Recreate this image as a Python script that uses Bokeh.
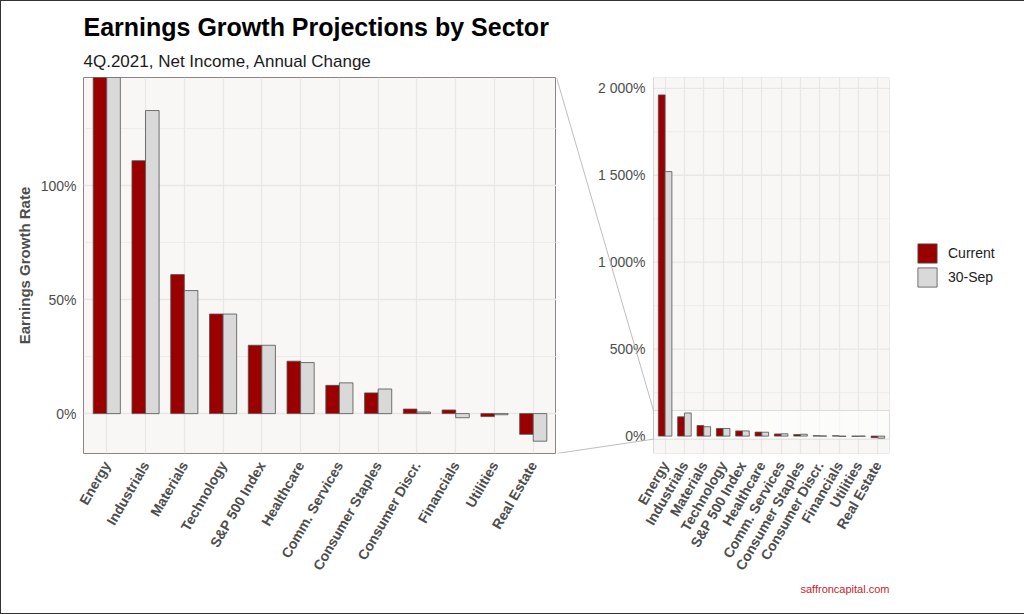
import math
from bokeh.plotting import figure
from bokeh.models import (FactorRange, Range1d, FixedTicker, PrintfTickFormatter,
                          BoxAnnotation, Legend, LegendItem, Title, ColumnDataSource)
from bokeh.transform import dodge
from bokeh.layouts import row
from bokeh.embed import file_html
from bokeh.resources import INLINE
from bokeh.core.properties import value

# ---------------- data ----------------
categories = ["Energy", "Industrials", "Materials", "Technology", "S&P 500 Index",
              "Healthcare", "Comm. Services", "Consumer Staples", "Consumer Discr.",
              "Financials", "Utilities", "Real Estate"]
current = [1962, 111, 61, 43.7, 30, 23, 12.4, 9.1, 2.0, 1.6, -1.3, -9.1]
sep30 = [1521, 133, 54, 43.7, 30, 22.4, 13.5, 10.8, 0.7, -1.8, -0.5, -12.1]
series_names = ["Current", "30-Sep"]

zoom_ticks = [0, 50, 100]
zoom_minor = [25, 75, 125]
full_ticks = [0, 500, 1000, 1500, 2000]
full_minor = [250, 750, 1250, 1750]
zoom_limits = (-17.5, 147.5)
full_limits = (-100, 2062)

title_text = "Earnings Growth Projections by Sector"
subtitle_text = "4Q.2021, Net Income, Annual Change"
ylabel_text = "Earnings Growth Rate"
credit_text = "saffroncapital.com"

# ---------------- style ----------------
FONT = "Liberation Sans"
PANEL_BG = "#F8F7F6"
BORDER = "#8E8484"
GRID = "#E9E7E6"
RED = "#9A0000"
GREY = "#D9D9D9"
OUTLINE = "#505050"
TXT = "#4D4D4D"
CONNECT = "#BDBDBD"

FRAME_H = 376
TOP = 77
BOTTOM = 161
LEFT_BORDER = 83
LEFT_W = 473
GAP = 97
RIGHT_W = 236
LEGEND_W = 135
BAR_W = 0.35
PAD = 0.6

n = len(categories)
idx = list(range(1, n + 1))
src = ColumnDataSource(dict(cat=categories, idx=idx, current=current, sep=sep30))


def style_xaxis(ax):
    ax.major_label_orientation = math.pi / 3
    ax.major_label_text_font = FONT
    ax.major_label_text_font_size = "14px"
    ax.major_label_text_font_style = "bold"
    ax.major_label_text_color = TXT
    ax.major_tick_line_color = None
    ax.minor_tick_line_color = None
    ax.major_tick_out = 0
    ax.axis_line_color = None
    ax.major_label_standoff = 9


# ---------------- left (zoomed) panel ----------------
left = figure(x_range=FactorRange(factors=categories, range_padding=PAD - 0.5,
                                  range_padding_units="absolute"),
              y_range=Range1d(*zoom_limits),
              frame_width=LEFT_W, frame_height=FRAME_H,
              min_border_left=LEFT_BORDER, min_border_right=0,
              min_border_top=TOP, min_border_bottom=BOTTOM,
              output_backend="svg", toolbar_location=None,
              background_fill_color=PANEL_BG, border_fill_color=None,
              outline_line_color=BORDER, outline_line_width=1)

left.vbar(x=dodge("cat", -BAR_W / 2, range=left.x_range), top="current", width=BAR_W,
          source=src, fill_color=RED, line_color=OUTLINE, line_width=0.8)
left.vbar(x=dodge("cat", BAR_W / 2, range=left.x_range), top="sep", width=BAR_W,
          source=src, fill_color=GREY, line_color=OUTLINE, line_width=0.8)

left.xgrid.grid_line_color = GRID
left.xgrid.grid_line_width = 1.3
left.yaxis.ticker = FixedTicker(ticks=zoom_ticks, minor_ticks=zoom_minor)
left.ygrid.grid_line_color = GRID
left.ygrid.grid_line_width = 1.3
left.ygrid.minor_grid_line_color = GRID
left.ygrid.minor_grid_line_width = 0.7
left.yaxis.formatter = PrintfTickFormatter(format="%d%%")
left.yaxis.major_label_text_font = FONT
left.yaxis.major_label_text_font_size = "14px"
left.yaxis.major_label_text_color = TXT
left.yaxis.major_tick_line_color = None
left.yaxis.minor_tick_line_color = None
left.yaxis.major_tick_out = 0
left.yaxis.minor_tick_out = 0
left.yaxis.axis_line_color = None
left.yaxis.major_label_standoff = 7
left.yaxis.axis_label = ylabel_text
left.yaxis.axis_label_text_font = FONT
left.yaxis.axis_label_text_font_size = "15px"
left.yaxis.axis_label_text_font_style = "bold"
left.yaxis.axis_label_text_color = TXT
left.yaxis.axis_label_standoff = 5
style_xaxis(left.xaxis[0])

left.add_layout(Title(text=subtitle_text, align="left", text_font=FONT,
                      text_font_size="17px", text_font_style="normal",
                      text_color="#1A1A1A", standoff=13), "above")
left.add_layout(Title(text=title_text, align="left", text_font=FONT,
                      text_font_size="25px", text_font_style="bold",
                      text_color="black", standoff=5), "above")

# ---------------- right (full) panel + connector ----------------
span = (n - 1) + 2 * PAD
x_end = n + PAD
panel_left = 1 - PAD
x_start = x_end - span * (GAP + RIGHT_W) / RIGHT_W

right = figure(x_range=Range1d(x_start, x_end), y_range=Range1d(*full_limits),
               frame_width=GAP + RIGHT_W, frame_height=FRAME_H,
               min_border_left=0, min_border_right=LEGEND_W,
               min_border_top=TOP, min_border_bottom=BOTTOM,
               output_backend="svg", toolbar_location=None,
               background_fill_color=None, border_fill_color=None,
               outline_line_color=None, y_axis_location=None)

for g in right.ygrid:
    g.visible = False
right.xgrid.ticker = FixedTicker(ticks=idx)
right.xgrid.grid_line_color = GRID
right.xgrid.grid_line_width = 1.3

right.add_layout(BoxAnnotation(left=panel_left, right=x_end, fill_color=PANEL_BG,
                               fill_alpha=1, line_color=None, level="image"))

right.segment(x0=[panel_left] * len(full_minor), x1=[x_end] * len(full_minor),
              y0=full_minor, y1=full_minor, line_color=GRID, line_width=0.7)
right.segment(x0=[panel_left] * len(full_ticks), x1=[x_end] * len(full_ticks),
              y0=full_ticks, y1=full_ticks, line_color=GRID, line_width=1.3)

# highlighted zoom area
right.quad(left=[panel_left], right=[x_end], bottom=[zoom_limits[0]], top=[zoom_limits[1]],
           fill_color="white", fill_alpha=0.6, line_color="#DCDCDC", line_width=1)

rc = right.vbar(x=dodge("idx", -BAR_W / 2), top="current", width=BAR_W, source=src,
                fill_color=RED, line_color=OUTLINE, line_width=0.8)
rs = right.vbar(x=dodge("idx", BAR_W / 2), top="sep", width=BAR_W, source=src,
                fill_color=GREY, line_color=OUTLINE, line_width=0.8)

# panel border
right.add_layout(BoxAnnotation(left=panel_left, right=x_end, fill_alpha=0,
                               line_color=BORDER, line_width=1))

# y tick labels of full panel
full_labels = [f"{v:,}".replace(",", " ") + "%" for v in full_ticks]
right.text(x=[panel_left] * len(full_ticks), y=full_ticks, text=full_labels,
           x_offset=-8, text_align="right", text_baseline="middle",
           text_font=value(FONT), text_font_size="14px", text_color=TXT)

# connector lines between panels
right.segment(x0=[x_start, x_start], y0=[full_limits[1], full_limits[0]],
              x1=[panel_left, panel_left], y1=[zoom_limits[1], zoom_limits[0]],
              line_color=CONNECT, line_width=1)

right.xaxis.ticker = FixedTicker(ticks=idx)
right.xaxis.major_label_overrides = {i: c for i, c in zip(idx, categories)}
style_xaxis(right.xaxis[0])

legend = Legend(items=[LegendItem(label=series_names[0], renderers=[rc]),
                       LegendItem(label=series_names[1], renderers=[rs])],
                location="center_left", glyph_width=24, glyph_height=24,
                spacing=0, padding=0, margin=26, label_standoff=9,
                label_text_font=FONT, label_text_font_size="14px",
                label_text_color="#222222", label_height=24,
                border_line_color=None, background_fill_alpha=0)
right.add_layout(legend, "right")

right.add_layout(Title(text=credit_text, align="right", text_font=FONT,
                       text_font_size="11px", text_font_style="normal",
                       text_color="#C4262E", standoff=2), "below")

layout = row(left, right, styles={"outline": "1px solid #333333",
                                  "outline-offset": "-1px",
                                  "background-color": "white"})

open("out.html", "w").write(file_html(layout, INLINE))
